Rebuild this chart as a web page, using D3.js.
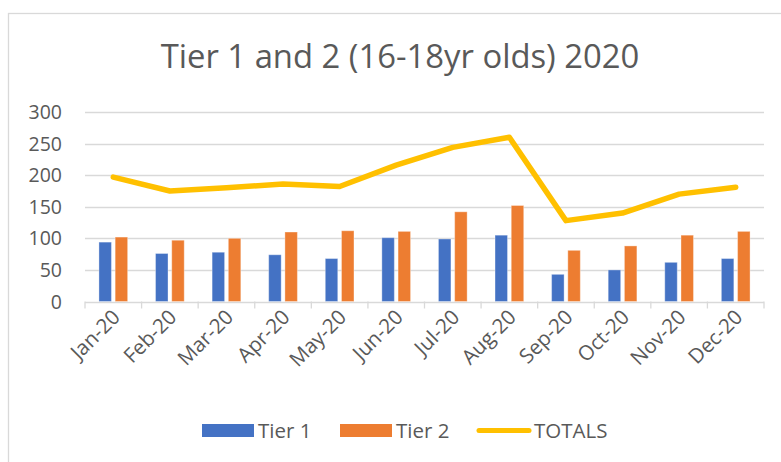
<!DOCTYPE html>
<meta charset="utf-8">
<style>
  body { margin: 0; background: #fff; }
  svg { display: block; }
  text { font-family: 'Open Sans', sans-serif; fill: #595959; }
  .grid line { stroke: #d9d9d9; stroke-width: 1.3px; }
  .ylab { font-size: 19.5px; text-anchor: end; }
  .xlab { font-size: 20.5px; text-anchor: end; }
  .leg { font-size: 20.5px; }
</style>
<script src="https://d3js.org/d3.v7.min.js"></script>
<svg width="781" height="462"></svg>
<script>
// data
var months = ["Jan-20","Feb-20","Mar-20","Apr-20","May-20","Jun-20","Jul-20","Aug-20","Sep-20","Oct-20","Nov-20","Dec-20"];
var tier1  = [94, 76, 78, 74, 68, 101, 99, 105, 43, 50, 62, 68];
var tier2  = [102, 97, 100, 110, 112, 111, 142, 152, 81, 88, 105, 111];
var totals = [197, 175, 180, 186, 182, 216, 244, 260, 128, 140, 170, 181];
var yTicks = [0, 50, 100, 150, 200, 250, 300];
var seriesNames = ["Tier 1", "Tier 2"];
var colors = {"Tier 1": "#4472C4", "Tier 2": "#ED7D31", "TOTALS": "#FFC000"};

var svg = d3.select("svg");

// chart border
svg.append("rect")
  .attr("x", 8.5).attr("y", 13.5)
  .attr("width", 820).attr("height", 500)
  .attr("fill", "none").attr("stroke", "#d9d9d9").attr("stroke-width", 1.3);

// title
svg.append("text")
  .attr("x", 400).attr("y", 68)
  .attr("text-anchor", "middle")
  .style("font-size", "32.8px")
  .text("Tier 1 and 2 (16-18yr olds) 2020");

var x = d3.scaleBand().domain(months).range([85, 764]);
var y = d3.scaleLinear().domain([0, 300]).range([301.5, 112]);
var bw = x.bandwidth();
var xs = d3.scaleBand().domain(seriesNames)
  .range([bw / 2 - 14.35, bw / 2 + 14.35]).paddingInner(0.23);

// gridlines
var grid = svg.append("g").attr("class", "grid");
grid.selectAll("line").data(yTicks).enter().append("line")
  .attr("x1", 85).attr("x2", 764)
  .attr("y1", function(d) { return Math.round(y(d)) + 0.5; })
  .attr("y2", function(d) { return Math.round(y(d)) + 0.5; });

// category ticks on the x axis
grid.selectAll(".tk").data(d3.range(months.length + 1)).enter().append("line")
  .attr("class", "tk")
  .attr("x1", function(i) { return 85 + i * bw; })
  .attr("x2", function(i) { return 85 + i * bw; })
  .attr("y1", y(0)).attr("y2", y(0) + 7);

// y labels
svg.selectAll(".ylab").data(yTicks).enter().append("text")
  .attr("class", "ylab")
  .attr("x", 62)
  .attr("y", function(d) { return y(d) + 7; })
  .text(function(d) { return d; });

// bars
var rows = months.map(function(m, i) {
  return {month: m, values: [{key: "Tier 1", v: tier1[i]}, {key: "Tier 2", v: tier2[i]}]};
});
var grp = svg.selectAll(".grp").data(rows).enter().append("g")
  .attr("transform", function(d) { return "translate(" + x(d.month) + ",0)"; });
grp.selectAll("rect").data(function(d) { return d.values; }).enter().append("rect")
  .attr("x", function(d) { return xs(d.key); })
  .attr("width", xs.bandwidth())
  .attr("y", function(d) { return y(d.v); })
  .attr("height", function(d) { return y(0) - y(d.v); })
  .attr("fill", function(d) { return colors[d.key]; })
  .attr("stroke", "rgba(255,255,255,0.35)").attr("stroke-width", 1);

// totals line
var line = d3.line()
  .x(function(d, i) { return x(months[i]) + bw / 2; })
  .y(function(d) { return y(d); });
svg.append("path").datum(totals)
  .attr("d", line)
  .attr("fill", "none")
  .attr("stroke", colors["TOTALS"])
  .attr("stroke-width", 5.5)
  .attr("stroke-linejoin", "round")
  .attr("stroke-linecap", "round");

// x labels
svg.selectAll(".xlab").data(months).enter().append("text")
  .attr("class", "xlab")
  .attr("transform", function(d) {
    return "translate(" + (x(d) + bw / 2 + 8) + "," + (y(0) + 17) + ") rotate(-45)";
  })
  .text(function(d) { return d; });

// legend
var legend = svg.append("g");
legend.append("rect").attr("x", 202).attr("y", 424).attr("width", 52).attr("height", 13).attr("fill", colors["Tier 1"]);
legend.append("text").attr("class", "leg").attr("x", 258).attr("y", 438).text("Tier 1");
legend.append("rect").attr("x", 340).attr("y", 424).attr("width", 52).attr("height", 13).attr("fill", colors["Tier 2"]);
legend.append("text").attr("class", "leg").attr("x", 396).attr("y", 438).text("Tier 2");
legend.append("line").attr("x1", 479).attr("x2", 529).attr("y1", 430.5).attr("y2", 430.5)
  .attr("stroke", colors["TOTALS"]).attr("stroke-width", 5).attr("stroke-linecap", "round");
legend.append("text").attr("class", "leg").attr("x", 534).attr("y", 438).text("TOTALS");
</script>
